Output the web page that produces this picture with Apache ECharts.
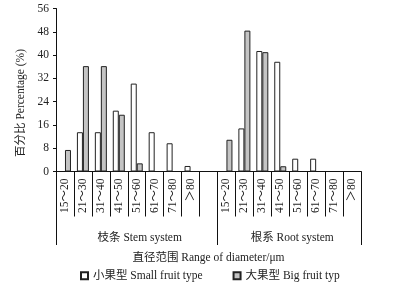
<!DOCTYPE html>
<html><head><meta charset="utf-8">
<script src="https://cdn.jsdelivr.net/npm/echarts@6/dist/echarts.min.js"></script>
<style>html,body{margin:0;padding:0;background:#fff}#c{width:407px;height:297px}</style>
</head><body><div id="c"></div>
<script>
var diameterClasses = ['15～20','21～30','31～40','41～50','51～60','61～70','71～80','＞80'];
var groupNames = ['枝条 Stem system', '根系 Root system'];
var stemSmall = [0, 13.5, 13.5, 20.9, 30.2, 13.5, 9.7, 1.9];
var stemBig   = [7.4, 36.2, 36.2, 19.5, 2.8, 0, 0, 0];
var rootSmall = [0, 14.8, 41.4, 37.7, 4.4, 4.4, 0, 0];
var rootBig   = [10.9, 48.4, 41.0, 1.8, 0, 0, 0, 0];
var yTicks = [0, 8, 16, 24, 32, 40, 48, 56];

var FONT = "'Liberation Serif','Noto Sans CJK SC',serif";
var TXT = '#222';
var FS = 11.5;
function nz(v){ return v === 0 ? '-' : v; }
var categories = diameterClasses.concat(['']).concat(diameterClasses);
var smallData = stemSmall.map(nz).concat(['-']).concat(rootSmall.map(nz));
var bigData = stemBig.map(nz).concat(['-']).concat(rootBig.map(nz));

var chart = echarts.init(document.getElementById('c'), null, {renderer:'canvas'});
chart.setOption({
  animation: false,
  textStyle: {fontFamily: FONT, color: TXT},
  grid: {left: 56, right: 46, top: 8.5, bottom: 125.5, containLabel: false},
  legend: {
    left: 80, top: 270, padding: 0, itemWidth: 7, itemHeight: 7, itemGap: 30, icon: 'rect',
    textStyle: {fontFamily: FONT, fontSize: FS, color: TXT},
    data: ['小果型 Small fruit type', '大果型 Big fruit typ']
  },
  xAxis: {
    type: 'category', data: categories,
    axisLine: {lineStyle: {color: '#111', width: 1}},
    axisTick: {show: true, length: 45, lineStyle: {color: '#111'}, interval: 0},
    axisLabel: {rotate: 90, interval: 0, margin: 7, fontSize: FS, color: TXT, fontFamily: FONT},
    name: '直径范围 Range of diameter/μm', nameLocation: 'middle', nameGap: 81,
    nameTextStyle: {fontSize: FS, color: TXT, fontFamily: FONT}
  },
  yAxis: {
    type: 'value', min: 0, max: 56, interval: 8,
    axisLine: {show: true, lineStyle: {color: '#111', width: 1}},
    axisTick: {show: true, inside: false, length: 3, lineStyle: {color: '#111'}},
    splitLine: {show: false},
    axisLabel: {margin: 7, fontSize: FS, color: TXT, fontFamily: FONT,
      formatter: function(v){ return yTicks.indexOf(v) >= 0 ? String(v) : ''; }},
    name: '百分比 Percentage (%)', nameLocation: 'middle', nameGap: 28,
    nameTextStyle: {fontSize: FS, color: TXT, fontFamily: FONT, padding: [0, 26, 0, 0]}
  },
  series: [
    {name: '小果型 Small fruit type', type: 'bar', data: smallData, barWidth: 6, barGap: '0%',
     itemStyle: {color: '#ffffff', borderColor: '#222', borderWidth: 1}},
    {name: '大果型 Big fruit typ', type: 'bar', data: bigData, barWidth: 6, barGap: '0%',
     itemStyle: {color: '#c4c4c4', borderColor: '#222', borderWidth: 1}}
  ]
});

// group separators and group labels, positioned from the category axis
var p0 = chart.convertToPixel({xAxisIndex: 0}, 0);
var p1 = chart.convertToPixel({xAxisIndex: 0}, 1);
var half = (p1 - p0) / 2;
var yBase = chart.convertToPixel({yAxisIndex: 0}, 0);
var nStem = diameterClasses.length;
var bStart = p0 - half;
var bMid = chart.convertToPixel({xAxisIndex: 0}, nStem + 1) - half;
var bEnd = chart.convertToPixel({xAxisIndex: 0}, categories.length - 1) + half;
var yLow = yBase + 73.5;
var g = [];
[bStart, bMid, bEnd].forEach(function(x){
  g.push({type: 'line', shape: {x1: Math.round(x) + 0.5, y1: yBase, x2: Math.round(x) + 0.5, y2: yLow},
    style: {stroke: '#111', lineWidth: 1}, silent: true});
});
g.push({type: 'text', x: (bStart + bMid) / 2 + 3, y: yBase + 66,
  style: {text: groupNames[0], fill: TXT, font: FS + 'px ' + FONT, textAlign: 'center', textVerticalAlign: 'middle'}});
g.push({type: 'text', x: (bMid + bEnd) / 2 + 3, y: yBase + 66,
  style: {text: groupNames[1], fill: TXT, font: FS + 'px ' + FONT, textAlign: 'center', textVerticalAlign: 'middle'}});
chart.setOption({graphic: g});
</script>
</body></html>
